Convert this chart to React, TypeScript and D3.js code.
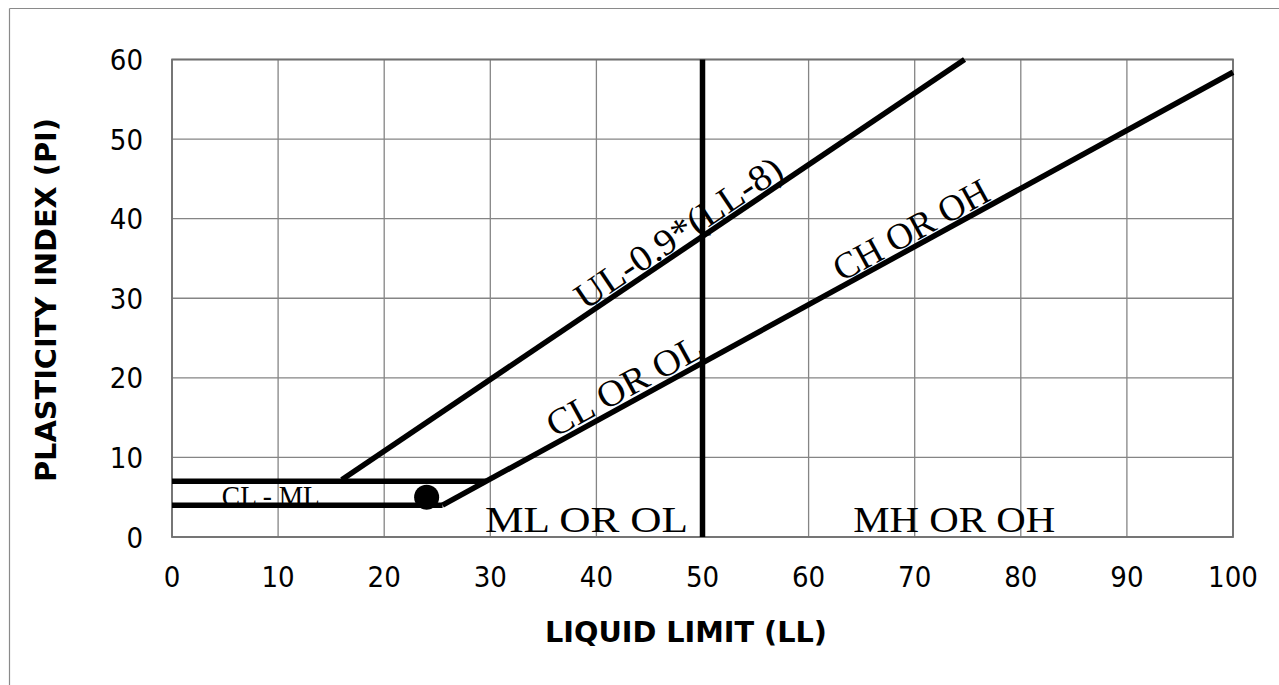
import React from "react";
import * as d3 from "d3";

const xTicks = [0, 10, 20, 30, 40, 50, 60, 70, 80, 90, 100];
const yTicks = [0, 10, 20, 30, 40, 50, 60];

// boundary lines (LL, PI)
const uLine: [number, number][] = [[16, 7.2], [74.7, 60]];
const aLine: [number, number][] = [[25.5, 4], [100, 58.4]];
const clmlTop: [number, number][] = [[0, 7], [29.6, 7]];
const clmlBottom: [number, number][] = [[0, 4], [25.5, 4]];
const llDivide: [number, number][] = [[50, 0], [50, 60]];

// sample point
const samplePoint: [number, number] = [24, 5];

// labels along sloped lines
const slopedLabels: { text: string; ll: number; line: [number, number][]; len: number; off: number }[] = [
  { text: "UL-0.9*(LL-8)", ll: 48.6, line: uLine, len: 242, off: 4 },
  { text: "CL OR OL", ll: 43.4, line: aLine, len: 172, off: 5 },
  { text: "CH OR OH", ll: 70.4, line: aLine, len: 172, off: 4 },
];

// flat zone labels
const zoneLabels: { text: string; ll: number; pi: number; len: number; size: number }[] = [
  { text: "CL - ML", ll: 4.7, pi: 3.9, len: 98, size: 29 },
  { text: "ML OR OL", ll: 29.5, pi: 0.6, len: 203, size: 36 },
  { text: "MH OR OH", ll: 64.2, pi: 0.6, len: 202, size: 36 },
];

const W = 1279;
const H = 685;
const x = d3.scaleLinear().domain([0, 100]).range([172, 1233]);
const y = d3.scaleLinear().domain([0, 60]).range([537, 59.5]);

const tickFont = "'DejaVu Sans Condensed', 'DejaVu Sans', sans-serif";
const serif = "'Liberation Serif', 'DejaVu Serif', serif";

export default function App() {
  const line = d3
    .line<[number, number]>()
    .x((d) => x(d[0]))
    .y((d) => y(d[1]));

  const thick = { fill: "none", stroke: "#000", strokeWidth: 5.5 };

  return (
    <svg
      width={W}
      height={H}
      style={{ position: "absolute", left: 0, top: 0, background: "#fff" }}
    >
      {/* outer frame */}
      <line x1={9.5} y1={8.5} x2={W} y2={8.5} stroke="#8a8a8a" strokeWidth={1.2} />
      <line x1={9.5} y1={8.5} x2={9.5} y2={H} stroke="#8a8a8a" strokeWidth={1.2} />

      {/* grid */}
      {xTicks.map((t) => (
        <line key={"gx" + t} x1={x(t)} x2={x(t)} y1={y(0)} y2={y(60)} stroke="#858585" strokeWidth={1.3} />
      ))}
      {yTicks.map((t) => (
        <line key={"gy" + t} x1={x(0)} x2={x(100)} y1={y(t)} y2={y(t)} stroke="#858585" strokeWidth={1.3} />
      ))}
      <rect x={x(0)} y={y(60)} width={x(100) - x(0)} height={y(0) - y(60)} fill="none" stroke="#707070" strokeWidth={1.8} />

      {/* tick labels */}
      {yTicks.map((t) => (
        <text key={"ty" + t} x={143} y={y(t) + 10.5} textAnchor="end" fontFamily={tickFont} fontStretch="condensed" fontSize={29} fill="#000">
          {t}
        </text>
      ))}
      {xTicks.map((t) => (
        <text key={"tx" + t} x={x(t)} y={587} textAnchor="middle" fontFamily={tickFont} fontStretch="condensed" fontSize={29} fill="#000">
          {t}
        </text>
      ))}

      {/* axis titles */}
      <text x={686} y={642} textAnchor="middle" fontFamily={tickFont} fontStretch="condensed" fontWeight="bold" fontSize={29} textLength={282} lengthAdjust="spacingAndGlyphs">
        LIQUID LIMIT (LL)
      </text>
      <text
        transform={`translate(56,300) rotate(-90)`}
        textAnchor="middle"
        fontFamily={tickFont}
        fontStretch="condensed"
        fontWeight="bold"
        fontSize={29}
        textLength={364}
        lengthAdjust="spacingAndGlyphs"
      >
        PLASTICITY INDEX (PI)
      </text>

      {/* zone labels */}
      {zoneLabels.map((l) => (
        <text key={l.text} x={x(l.ll)} y={y(l.pi)} fontFamily={serif} fontSize={l.size} textLength={l.len} lengthAdjust="spacingAndGlyphs" fill="#000">
          {l.text}
        </text>
      ))}

      {/* boundary lines */}
      <path d={line(clmlTop) || ""} {...thick} />
      <path d={line(clmlBottom) || ""} {...thick} />
      <path d={line(uLine) || ""} {...thick} />
      <path d={line(aLine) || ""} {...thick} />
      <path d={line(llDivide) || ""} {...thick} />

      {/* sloped labels */}
      {slopedLabels.map((l) => {
        const [p1, p2] = l.line;
        const slope = (p2[1] - p1[1]) / (p2[0] - p1[0]);
        const pi = p1[1] + slope * (l.ll - p1[0]);
        const dx = x(p2[0]) - x(p1[0]);
        const dy = y(p2[1]) - y(p1[1]);
        const ang = (Math.atan2(dy, dx) * 180) / Math.PI;
        return (
          <text
            key={l.text}
            transform={`translate(${x(l.ll)},${y(pi)}) rotate(${ang}) translate(0,${-l.off})`}
            textAnchor="middle"
            fontFamily={serif}
            fontSize={37}
            textLength={l.len}
            lengthAdjust="spacingAndGlyphs"
            fill="#000"
          >
            {l.text}
          </text>
        );
      })}

      {/* sample point */}
      <circle cx={x(samplePoint[0])} cy={y(samplePoint[1])} r={12.5} fill="#000" />
    </svg>
  );
}
